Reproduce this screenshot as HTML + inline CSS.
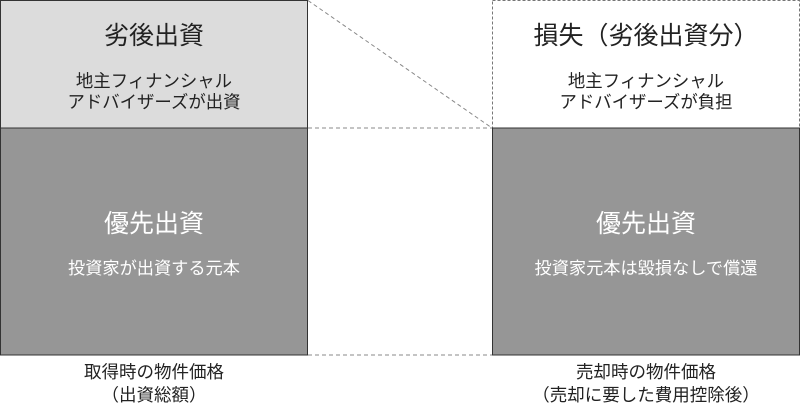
<!DOCTYPE html>
<html><head><meta charset="utf-8"><style>
html,body{margin:0;padding:0;background:#fff;}
svg{display:block;}
text{font-family:"Liberation Sans","Noto Sans CJK JP",sans-serif;text-anchor:middle;}
</style></head><body>
<svg width="800" height="404" viewBox="0 0 800 404" xmlns="http://www.w3.org/2000/svg">
<rect x="0.5" y="0.5" width="307" height="127.5" fill="#dcdcdc" stroke="#333" stroke-width="1"/>
<rect x="0.5" y="128" width="307" height="227" fill="#969696" stroke="#333" stroke-width="1"/>
<rect x="492.5" y="0.5" width="307" height="127.5" fill="#fff" stroke="#777" stroke-width="1" stroke-dasharray="3,2"/>
<rect x="492.5" y="128" width="307" height="227" fill="#969696" stroke="#333" stroke-width="1"/>
<line x1="308" y1="0.5" x2="492" y2="128" stroke="#888" stroke-width="1" stroke-dasharray="4,3"/>
<line x1="308" y1="128" x2="492" y2="128" stroke="#888" stroke-width="1" stroke-dasharray="4,3"/>
<line x1="308" y1="355" x2="492" y2="355" stroke="#888" stroke-width="1" stroke-dasharray="4,3"/>
<text x="154" y="44" font-size="25" fill="#222">劣後出資</text>
<text x="154" y="87" font-size="17.4" fill="#222">地主フィナンシャル</text>
<text x="154" y="108" font-size="17.4" fill="#222">アドバイザーズが出資</text>
<text x="154" y="232" font-size="25" fill="#fff">優先出資</text>
<text x="154" y="274" font-size="17.2" fill="#fff">投資家が出資する元本</text>
<text x="646" y="44" font-size="25" fill="#222">損失（劣後出資分）</text>
<text x="646" y="87" font-size="17.4" fill="#222">地主フィナンシャル</text>
<text x="646" y="108" font-size="17.4" fill="#222">アドバイザーズが負担</text>
<text x="646" y="232" font-size="25" fill="#fff">優先出資</text>
<text x="646" y="274" font-size="17.2" fill="#fff">投資家元本は毀損なしで償還</text>
<text x="154" y="378" font-size="17.5" fill="#222">取得時の物件価格</text>
<text x="154" y="401" font-size="17.5" fill="#222">（出資総額）</text>
<text x="646" y="378" font-size="17.5" fill="#222">売却時の物件価格</text>
<text x="646" y="401" font-size="17.5" fill="#222">（売却に要した費用控除後）</text>
</svg>
</body></html>
